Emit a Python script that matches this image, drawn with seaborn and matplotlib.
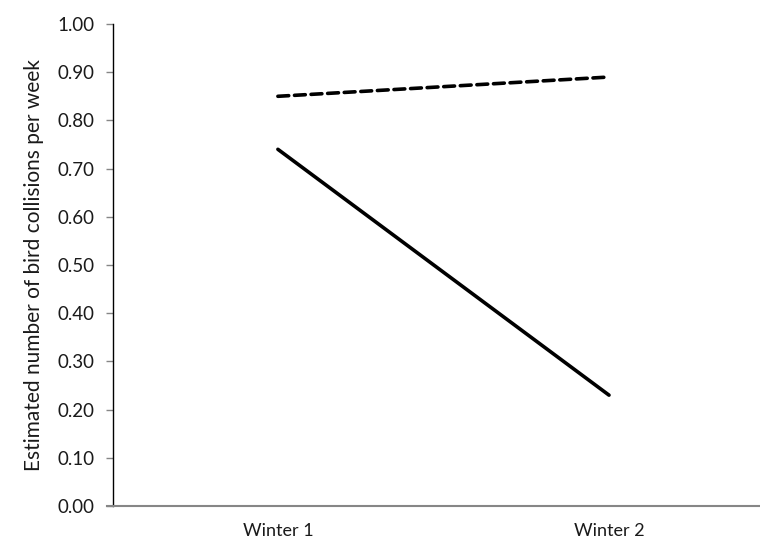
import matplotlib
matplotlib.use("Agg")
import matplotlib.pyplot as plt
import seaborn as sns
import pandas as pd

categories = ["Winter 1", "Winter 2"]
series_a = [0.85, 0.89]   # dashed
series_b = [0.74, 0.23]   # solid
yticks = [0.0, 0.1, 0.2, 0.3, 0.4, 0.5, 0.6, 0.7, 0.8, 0.9, 1.0]
ylabel = "Estimated number of bird collisions per week"

df = pd.DataFrame({
    "x": list(range(len(categories))) * 2,
    "y": series_a + series_b,
    "series": ["A"] * len(series_a) + ["B"] * len(series_b),
})

sns.set_theme(style="white")
plt.rcParams['font.family'] = ['Lato', 'DejaVu Sans']

fig = plt.figure(figsize=(7.6, 5.39), dpi=100)
ax = fig.add_axes([113/760, 1 - 506/539, 1 - 113/760, (506 - 24)/539])

sns.lineplot(data=df, x="x", y="y", hue="series", style="series",
             palette={"A": "black", "B": "black"},
             dashes={"A": (3.0, 1.6), "B": ""},
             linewidth=2.6, legend=False, ax=ax,
             dash_capstyle="round", solid_capstyle="round")

ax.set_xlim(-0.498, 1.456)
ax.set_ylim(0, 1.0)
ax.set_yticks(yticks)
ax.set_yticklabels([f"{v:.2f}" for v in yticks], fontsize=13.5, color="#1a1a1a")
ax.set_xticks(range(len(categories)))
ax.set_xticklabels(categories, fontsize=13, color="#1a1a1a")
ax.tick_params(axis="y", length=5, width=1, color="#868686", pad=8, left=True)
ax.tick_params(axis="x", length=0, pad=12)
ax.set_xlabel("")
ax.set_ylabel(ylabel, fontsize=15, color="#1a1a1a", labelpad=10)

for s in ["top", "right"]:
    ax.spines[s].set_visible(False)
ax.spines["left"].set_color("black")
ax.spines["left"].set_linewidth(1.0)
ax.spines["bottom"].set_color("#868686")
ax.spines["bottom"].set_linewidth(1.5)
ax.spines["bottom"].set_bounds(-0.516, 1.456)
ax.spines["bottom"].set_clip_on(False)

fig.savefig("out.png", dpi=100, facecolor="white")
